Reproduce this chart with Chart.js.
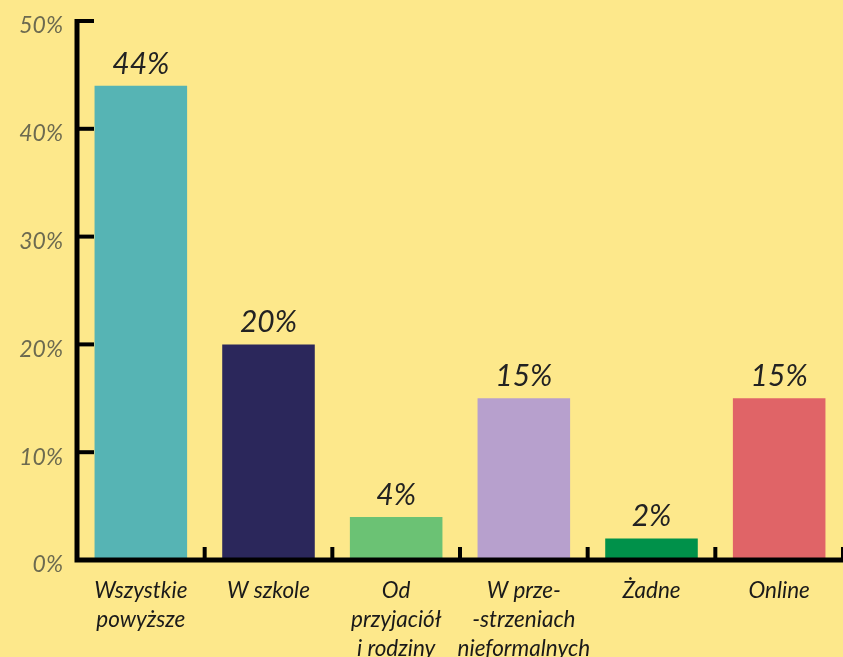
<!DOCTYPE html>
<html>
<head>
<meta charset="utf-8">
<script src="https://cdn.jsdelivr.net/npm/chart.js@4/dist/chart.umd.min.js"></script>
<style>
  html, body { margin: 0; padding: 0; background: #fde88b; }
  canvas { display: block; }
</style>
</head>
<body>
<canvas id="chart" width="843" height="657"></canvas>
<script>
const categories = [
  ['Wszystkie', 'powyższe'],
  ['W szkole'],
  ['Od', 'przyjaciół', 'i rodziny'],
  ['W prze-', '-strzeniach', 'nieformalnych'],
  ['Żadne'],
  ['Online'],
];
const values = [44, 20, 4, 15, 2, 15];
const barColors = ['#56b4b4', '#2b275b', '#6bc274', '#b7a0cd', '#00914a', '#e06467'];
const yMax = 50;
const yStep = 10;

// axis lines + inward tick marks, drawn from the scales
const axesPlugin = {
  id: 'axes',
  afterDatasetsDraw(chart) {
    const { ctx, chartArea, scales } = chart;
    const x = scales.x, y = scales.y;
    ctx.save();
    ctx.strokeStyle = '#000';
    ctx.lineCap = 'butt';
    // y ticks
    ctx.lineWidth = 4;
    y.ticks.forEach((t) => {
      const py = y.getPixelForValue(t.value);
      ctx.beginPath();
      ctx.moveTo(chartArea.left, py);
      ctx.lineTo(chartArea.left + 17, py);
      ctx.stroke();
    });
    // x ticks at category boundaries
    const half = (x.getPixelForValue(1) - x.getPixelForValue(0)) / 2;
    categories.forEach((c, i) => {
      const px = x.getPixelForValue(i) + half;
      ctx.beginPath();
      ctx.moveTo(px, chartArea.bottom);
      ctx.lineTo(px, chartArea.bottom - 13);
      ctx.stroke();
    });
    // axis lines
    ctx.lineWidth = 5;
    ctx.beginPath();
    ctx.moveTo(chartArea.left, y.getPixelForValue(yMax) - 2);
    ctx.lineTo(chartArea.left, chartArea.bottom);
    ctx.lineTo(chartArea.right + 2, chartArea.bottom);
    ctx.stroke();
    ctx.restore();
  },
};

const valueLabels = {
  id: 'valueLabels',
  afterDatasetsDraw(chart) {
    const { ctx } = chart;
    const meta = chart.getDatasetMeta(0);
    ctx.save();
    ctx.font = 'italic 30px Lato';
    ctx.fillStyle = '#222';
    ctx.textAlign = 'center';
    ctx.textBaseline = 'alphabetic';
    meta.data.forEach((bar, i) => {
      ctx.fillText(values[i] + '%', bar.x, bar.y - 12);
    });
    ctx.restore();
  },
};

new Chart(document.getElementById('chart'), {
  type: 'bar',
  data: {
    labels: categories,
    datasets: [{
      data: values,
      backgroundColor: barColors,
      borderWidth: 0,
      categoryPercentage: 1,
      barPercentage: 0.725,
    }],
  },
  options: {
    responsive: false,
    animation: false,
    layout: { padding: { top: 21, right: 0, left: 0, bottom: 0 } },
    plugins: { legend: { display: false }, tooltip: { enabled: false } },
    scales: {
      x: {
        grid: { display: false, drawTicks: false },
        border: { display: false },
        afterFit: (s) => { s.height = 97; s.paddingLeft = 0; s.paddingRight = 0; },
        ticks: {
          maxRotation: 0,
          autoSkip: false,
          padding: 16,
          color: '#1a1a1a',
          font: { family: 'Lato', style: 'italic', size: 22.5, lineHeight: 1.3 },
        },
      },
      y: {
        min: 0,
        max: yMax,
        grid: { display: false, drawTicks: false },
        border: { display: false },
        afterFit: (s) => { s.width = 77; s.paddingTop = 0; s.paddingBottom = 0; },
        ticks: {
          stepSize: yStep,
          padding: 14,
          labelOffset: 5,
          color: '#6c6a50',
          font: { family: 'Lato', style: 'italic', weight: 'normal', size: 23 },
          callback: (v) => v + '%',
        },
      },
    },
  },
  plugins: [axesPlugin, valueLabels],
});
</script>
</body>
</html>
